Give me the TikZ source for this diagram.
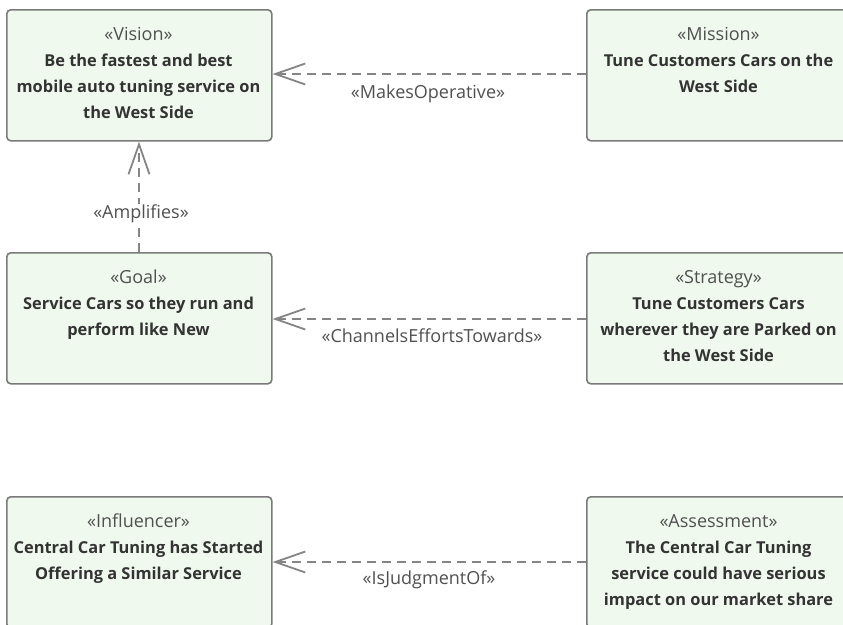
\documentclass[tikz,border=0pt]{standalone}
\usepackage{fontspec}
\setmainfont{Open Sans}
\usetikzlibrary{arrows.meta}
\definecolor{boxfill}{HTML}{F0F9EE}
\definecolor{boxline}{HTML}{7A7A7A}
\definecolor{txt}{HTML}{333333}
\definecolor{stxt}{HTML}{505050}
\definecolor{edge}{HTML}{858585}
\newcommand{\st}[1]{{\fontsize{18}{26}\selectfont\color{stxt}#1}}
\newcommand{\bt}[1]{{\fontsize{16.4}{26}\selectfont\bfseries #1}}
\tikzset{
  elem/.style={draw=boxline, fill=boxfill, line width=1.6pt, rounded corners=4pt,
    minimum width=265pt, minimum height=131pt, anchor=north west, inner sep=0pt},
  elemtext/.style={anchor=base, align=center, text=txt, font=\fontsize{16.4}{26}\selectfont, inner sep=0pt},
  rel/.style={draw=edge, line width=1.8pt, dash pattern=on 9pt off 6pt,
    -{Straight Barb[length=30pt, width=21pt, line width=1.8pt]}},
  rellabel/.style={text=stxt, font=\fontsize{18}{20}\selectfont, inner sep=0pt}
}
\begin{document}
\begin{tikzpicture}[x=1pt, y=-1pt]
\useasboundingbox (0,0) rectangle (843,624);
\node[elem] (vision) at (6,9) {};
\node[elem] (mission) at (586,9) {};
\node[elem] (goal) at (6,252) {};
\node[elem] (strategy) at (586,252) {};
\node[elem] (influencer) at (6,496) {};
\node[elem] (assessment) at (586,496) {};

% anchor=base is the baseline of the last line
\node[elemtext] (tv) at (138.5,118) {\st{«Vision»}\\\bt{Be the fastest and best}\\\bt{mobile auto tuning service on}\\\bt{the West Side}};
\node[elemtext] (tm) at (718.5,92) {\st{«Mission»}\\\bt{Tune Customers Cars on the}\\\bt{West Side}};
\node[elemtext] (tg) at (138.5,335) {\st{«Goal»}\\\bt{Service Cars so they run and}\\\bt{perform like New}};
\node[elemtext] (ts) at (718.5,361) {\st{«Strategy»}\\\bt{Tune Customers Cars}\\\bt{wherever they are Parked on}\\\bt{the West Side}};
\node[elemtext] (ti) at (138.5,579) {\st{«Influencer»}\\\bt{Central Car Tuning has Started}\\\bt{Offering a Similar Service}};
\node[elemtext] (ta) at (718.5,605) {\st{«Assessment»}\\\bt{The Central Car Tuning}\\\bt{service could have serious}\\\bt{impact on our market share}};

\draw[rel] (mission.west |- 0,74) -- (vision.east |- 0,74);
\node[rellabel] (l1) at (428,94) {«MakesOperative»};
\draw[rel] (strategy.west |- 0,319) -- (goal.east |- 0,319);
\node[rellabel] (l2) at (432,336) {«ChannelsEffortsTowards»};
\draw[rel] (assessment.west |- 0,562) -- (influencer.east |- 0,562);
\node[rellabel] (l3) at (429,580) {«IsJudgmentOf»};
\draw[rel] (goal.north -| 139,0) -- (vision.south -| 139,0);
\node[rellabel, fill=white, inner sep=1pt] (l4) at (141,214) {«Amplifies»};
\end{tikzpicture}
\end{document}
